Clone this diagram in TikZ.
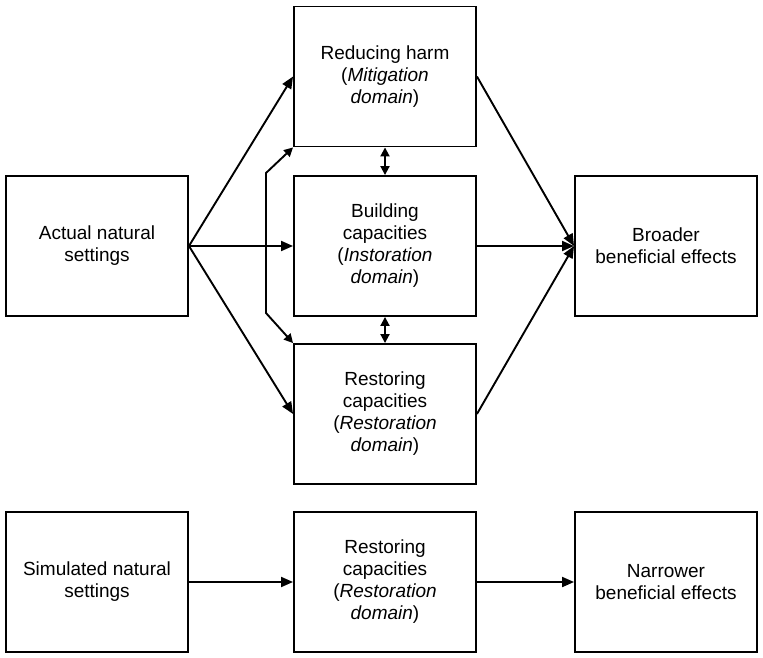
\documentclass[tikz,border=0pt]{standalone}
\usepackage{fontspec}
\setmainfont{Liberation Sans}
\usetikzlibrary{arrows.meta}
\tikzset{
    blk/.style={draw, line width=1.9pt, minimum width=182pt, minimum height=140pt,
        align=center, inner sep=0pt, font=\fontsize{19}{22}\selectfont},
    arr/.style={line width=1.9pt, -{Triangle[length=12pt,width=10pt]}},
    darr/.style={line width=1.9pt, {Triangle[length=9pt,width=9pt]}-{Triangle[length=9pt,width=9pt]}}
}
\begin{document}
\begin{tikzpicture}[x=1pt, y=-1pt]
        \useasboundingbox (0,0) rectangle (763,658);
        % actual settings
        \node[blk] (actual) at (97,246) {Actual natural\\settings};
        \node[blk] (harm) at (385,76.5) {Reducing harm\\(\textit{Mitigation}\\\textit{domain})};
        \node[blk] (build) at (385,246) {Building\\capacities\\(\textit{Instoration}\\\textit{domain})};
        \node[blk] (restore) at (385,414) {Restoring\\capacities\\(\textit{Restoration}\\\textit{domain})};
        \node[blk] (broad) at (666,246) {Broader\\beneficial effects};
        \draw [arr] (actual.east) -- (harm.west);
        \draw [arr] (actual.east) -- (build.west);
        \draw [arr] (actual.east) -- (restore.west);
        \draw [arr] (harm.east) -- (broad.west);
        \draw [arr] (build.east) -- (broad.west);
        \draw [arr] (restore.east) -- (broad.west);
        \draw [darr] (harm.south) -- (build.north);
        \draw [darr] (build.south) -- (restore.north);
        \coordinate (bendtop) at (266,173);
        \coordinate (bendbot) at (266,313);
        \draw [darr] (harm.south west) -- (bendtop) -- (bendbot) -- (restore.north west);
        % simulated settings
        \node[blk] (sim) at (97,582) {Simulated natural\\settings};
        \node[blk] (restoresim) at (385,582) {Restoring\\capacities\\(\textit{Restoration}\\\textit{domain})};
        \node[blk] (narrow) at (666,582) {Narrower\\beneficial effects};
        \draw [arr] (sim.east) -- (restoresim.west);
        \draw [arr] (restoresim.east) -- (narrow.west);
    \end{tikzpicture}
\end{document}
